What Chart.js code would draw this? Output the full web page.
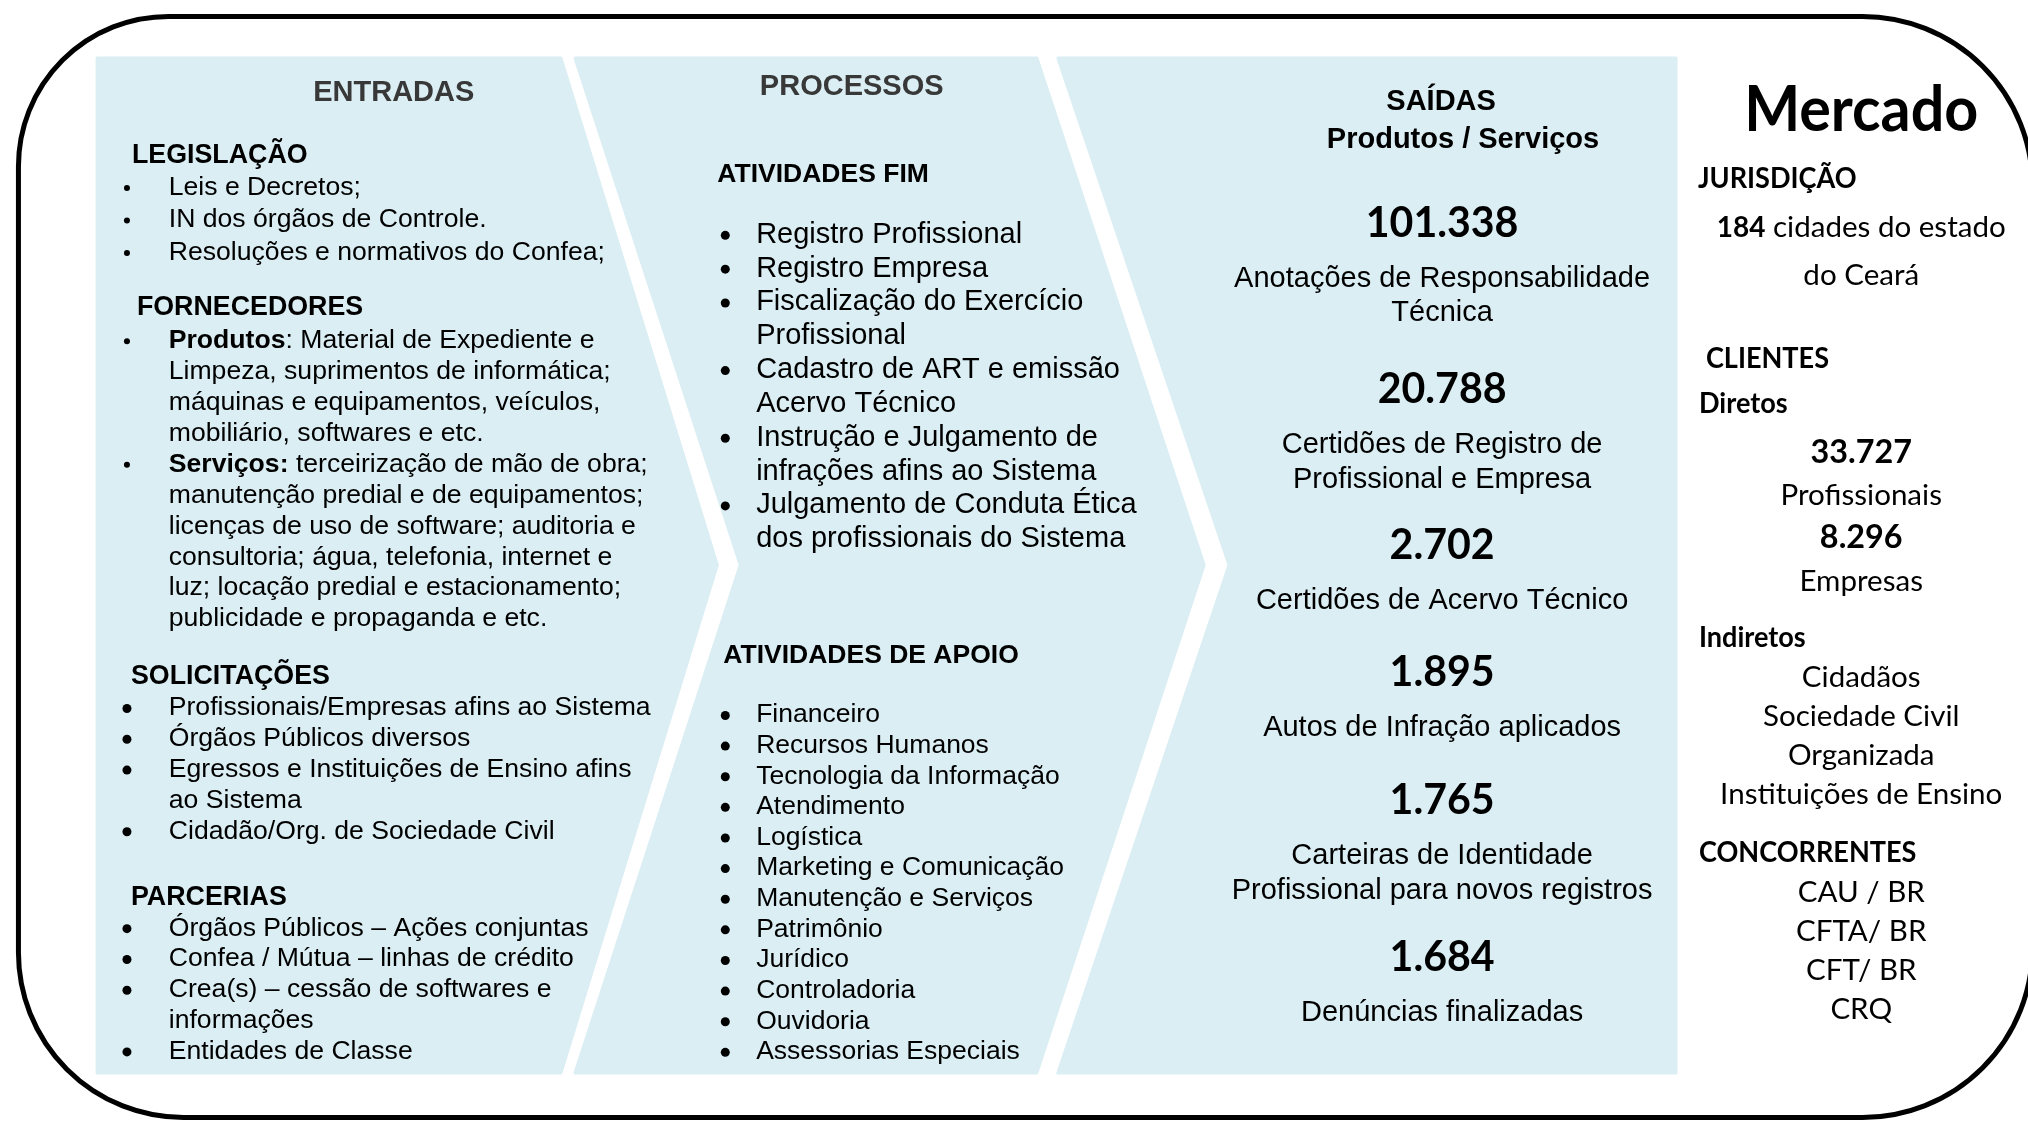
<!DOCTYPE html>
<html lang="pt-BR">
<head>
<meta charset="utf-8">
<title>Cadeia de valor</title>
<script src="https://cdn.jsdelivr.net/npm/chart.js@4.4.1/dist/chart.umd.min.js"></script>
<style>
html, body { margin: 0; padding: 0; background: #fff; }
#quadro { width: 2028px; height: 1124px; position: relative; }
</style>
</head>
<body>
<div id="quadro"><canvas id="grafico"></canvas></div>
<script>
// ---- dados ----
const tituloEntradas = 'ENTRADAS';
const tituloProcessos = 'PROCESSOS';
const tituloSaidas = ['SAÍDAS', 'Produtos / Serviços'];
const tituloMercado = 'Mercado';

const legislacao = [['Leis e Decretos;'], ['IN dos órgãos de Controle.'], ['Resoluções e normativos do Confea;']];
const fornecedoresNegrito = ['Produtos', 'Serviços:'];
const fornecedoresLinhas = [
  [': Material de Expediente e', 'Limpeza, suprimentos de informática;', 'máquinas e equipamentos, veículos,', 'mobiliário, softwares e etc.'],
  [' terceirização de mão de obra;', 'manutenção predial e de equipamentos;', 'licenças de uso de software; auditoria e',
   'consultoria; água, telefonia, internet e', 'luz; locação predial e estacionamento;', 'publicidade e propaganda e etc.']
];
const solicitacoes = [['Profissionais/Empresas afins ao Sistema'], ['Órgãos Públicos diversos'],
  ['Egressos e Instituições de Ensino afins', 'ao Sistema'], ['Cidadão/Org. de Sociedade Civil']];
const parcerias = [['Órgãos Públicos – Ações conjuntas'], ['Confea / Mútua – linhas de crédito'],
  ['Crea(s) – cessão de softwares e', 'informações'], ['Entidades de Classe']];

const atividadesFim = [['Registro Profissional'], ['Registro Empresa'], ['Fiscalização do Exercício', 'Profissional'],
  ['Cadastro de ART e emissão', 'Acervo Técnico'], ['Instrução e Julgamento de', 'infrações afins ao Sistema'],
  ['Julgamento de Conduta Ética', 'dos profissionais do Sistema']];
const atividadesApoio = [['Financeiro'], ['Recursos Humanos'], ['Tecnologia da Informação'], ['Atendimento'], ['Logística'],
  ['Marketing e Comunicação'], ['Manutenção e Serviços'], ['Patrimônio'], ['Jurídico'], ['Controladoria'], ['Ouvidoria'],
  ['Assessorias Especiais']];

const saidasValores = ['101.338', '20.788', '2.702', '1.895', '1.765', '1.684'];
const saidasRotulos = [['Anotações de Responsabilidade', 'Técnica'], ['Certidões de Registro de', 'Profissional e Empresa'],
  ['Certidões de Acervo Técnico'], ['Autos de Infração aplicados'],
  ['Carteiras de Identidade', 'Profissional para novos registros'], ['Denúncias finalizadas']];

const jurisdicaoCidades = '184';
const jurisdicaoTexto = [' cidades do estado', 'do Ceará'];
const diretosValores = ['33.727', '8.296'];
const diretosRotulos = ['Profissionais', 'Empresas'];
const indiretos = ['Cidadãos', 'Sociedade Civil', 'Organizada', 'Instituições de Ensino'];
const concorrentes = ['CAU / BR', 'CFTA/ BR', 'CFT/ BR', 'CRQ'];

// ---- aparencia ----
const LARGURA = 2028, ALTURA = 1124;
const AZUL = '#daeef3';
const PRETO = '#000000';
const CINZA = '#383838';
const ARIAL = '"Liberation Sans", Arial, sans-serif';
const CALIBRI = 'Lato, "Open Sans", sans-serif';

const textos = [];
const marcadores = [];

// pequena correcao vertical do layout
function ajusteY(y) { return y - 4.5 + (y - 90) * 0.0089; }

function texto(partes, x, y, alinha, tam, fam, cor) {
  textos.push({partes: partes, x: x, y: ajusteY(y), alinha: alinha, tam: tam, fam: fam, cor: cor || PRETO});
}

function lista(itens, xMarca, xTexto, y0, passo, tam, raio) {
  let y = y0;
  itens.forEach(function (item) {
    marcadores.push({x: xMarca, y: ajusteY(y) + 0.1 * tam, r: raio});
    item.forEach(function (linha) {
      texto(typeof linha === 'string' ? [[linha, false]] : linha, xTexto, y, 'left', tam, ARIAL);
      y += passo;
    });
  });
}

// entradas
texto([[tituloEntradas, true]], 391, 91, 'center', 29, ARIAL, CINZA);
texto([['LEGISLAÇÃO', true]], 128, 154, 'left', 26.8, ARIAL);
lista(legislacao, 123, 165, 186, 32.5, 26.6, 3);
texto([['FORNECEDORES', true]], 133, 306, 'left', 26.8, ARIAL);
lista(fornecedoresLinhas.map(function (linhas, i) {
  return linhas.map(function (l, j) { return j === 0 ? [[fornecedoresNegrito[i], true], [l, false]] : l; });
}), 123, 165, 339, 30.9, 26.6, 3);
texto([['SOLICITAÇÕES', true]], 127, 675, 'left', 26.8, ARIAL);
lista(solicitacoes, 123, 165, 706, 30.8, 26.6, 4.5);
texto([['PARCERIAS', true]], 127, 895, 'left', 26.8, ARIAL);
lista(parcerias, 123, 165, 926, 30.8, 26.6, 4.5);

// processos
texto([[tituloProcessos, true]], 851, 85, 'center', 29, ARIAL, CINZA);
texto([['ATIVIDADES FIM', true]], 716, 173, 'left', 26.5, ARIAL);
lista(atividadesFim, 724, 755, 233, 33.8, 29, 4.5);
texto([['ATIVIDADES DE APOIO', true]], 722, 654, 'left', 26.5, ARIAL);
lista(atividadesApoio, 724, 755, 713, 30.6, 26.5, 4.5);

// saidas
texto([[tituloSaidas[0], true]], 1443, 100, 'center', 29, ARIAL);
texto([[tituloSaidas[1], true]], 1465, 138, 'center', 29, ARIAL);
const saidasY = [222, 388, 544, 671, 799, 956];
saidasValores.forEach(function (v, i) {
  texto([[v, true]], 1444, saidasY[i], 'center', 47, CALIBRI);
  saidasRotulos[i].forEach(function (r, j) {
    texto([[r, false]], 1444, saidasY[i] + 55 + j * 34.5, 'center', 29, ARIAL);
  });
});

// mercado
texto([[tituloMercado, true]], 1865, 109, 'center', 70, CALIBRI);
texto([['JURISDIÇÃO', true]], 1701, 178, 'left', 32, CALIBRI);
texto([[jurisdicaoCidades, true], [jurisdicaoTexto[0], false]], 1865, 227, 'center', 32, CALIBRI);
texto([[jurisdicaoTexto[1], false]], 1865, 275, 'center', 32, CALIBRI);
texto([['CLIENTES', true]], 1709, 358, 'left', 32, CALIBRI);
texto([['Diretos', true]], 1702, 403, 'left', 32, CALIBRI);
diretosValores.forEach(function (v, i) {
  texto([[v, true]], 1865, 451 + i * 85.5, 'center', 37, CALIBRI);
  texto([[diretosRotulos[i], false]], 1865, 495 + i * 85.5, 'center', 32, CALIBRI);
});
texto([['Indiretos', true]], 1702, 637, 'left', 32, CALIBRI);
indiretos.forEach(function (t, i) { texto([[t, false]], 1865, 677 + i * 39, 'center', 32, CALIBRI); });
texto([['CONCORRENTES', true]], 1702, 852, 'left', 32, CALIBRI);
concorrentes.forEach(function (t, i) { texto([[t, false]], 1865, 892 + i * 39, 'center', 32, CALIBRI); });

// formas dos paineis (chevrons) e moldura
const paineis = [
  [[93, 54], [559, 54], [716, 565], [559, 1077], [93, 1077]],
  [[573, 54], [1037, 54], [1205, 565], [1037, 1077], [573, 1077], [739, 565]],
  [[1058, 54], [1679, 54], [1679, 1077], [1058, 1077], [1230, 565]]
];

let escalaCalibri = {};

function medeCalibri(ctx) {
  // ajusta Lato (desenhado a 0.9x) para as larguras do Calibri
  ctx.font = '400 90px ' + CALIBRI;
  escalaCalibri.normal = 882 / ctx.measureText('Instituições de Ensino').width;
  ctx.font = '700 90px ' + CALIBRI;
  escalaCalibri.negrito = 679.8 / ctx.measureText('CONCORRENTES').width;
  escalaCalibri.numero = 507 / ctx.measureText('0123456789').width;
}

function escalaDe(calibri, parte) {
  if (!calibri) return 1;
  if (parte[1] && /^[\d.]+$/.test(parte[0])) return escalaCalibri.numero;
  return parte[1] ? escalaCalibri.negrito : escalaCalibri.normal;
}

const diagrama = {
  id: 'diagrama',
  beforeDatasetsDraw: function (chart) {
    const ctx = chart.ctx, sx = chart.scales.x, sy = chart.scales.y;
    const X = function (v) { return sx.getPixelForValue(v); };
    const Y = function (v) { return sy.getPixelForValue(v); };
    ctx.save();
    paineis.forEach(function (p) {
      ctx.beginPath();
      p.forEach(function (pt, i) { if (i === 0) ctx.moveTo(X(pt[0]), Y(pt[1])); else ctx.lineTo(X(pt[0]), Y(pt[1])); });
      ctx.closePath();
      ctx.fillStyle = AZUL;
      ctx.fill();
      ctx.strokeStyle = AZUL;
      ctx.lineWidth = 3;
      ctx.lineJoin = 'round';
      ctx.stroke();
    });
    // moldura arredondada
    const x0 = X(14), x1 = X(2037), y0 = Y(12), y1 = Y(1122);
    const rTE = 150, rTD = 170, rBD = 170, rBE = 165;
    ctx.beginPath();
    ctx.moveTo(x0 + rTE, y0);
    ctx.lineTo(x1 - rTD, y0);
    ctx.arcTo(x1, y0, x1, y0 + rTD, rTD);
    ctx.lineTo(x1, y1 - rBD);
    ctx.arcTo(x1, y1, x1 - rBD, y1, rBD);
    ctx.lineTo(x0 + rBE, y1);
    ctx.arcTo(x0, y1, x0, y1 - rBE, rBE);
    ctx.lineTo(x0, y0 + rTE);
    ctx.arcTo(x0, y0, x0 + rTE, y0, rTE);
    ctx.closePath();
    ctx.strokeStyle = '#000';
    ctx.lineWidth = 5;
    ctx.stroke();
    ctx.restore();
  },
  afterDatasetsDraw: function (chart) {
    const ctx = chart.ctx, sx = chart.scales.x, sy = chart.scales.y;
    ctx.save();
    medeCalibri(ctx);
    textos.forEach(function (t) {
      const calibri = t.fam === CALIBRI;
      const tam = calibri ? t.tam * 0.9 : t.tam;
      const cap = calibri ? 0.72 * tam : 0.716 * tam;
      const larguras = t.partes.map(function (p) {
        ctx.font = (p[1] ? '700 ' : '400 ') + tam + 'px ' + t.fam;
        return ctx.measureText(p[0]).width * escalaDe(calibri, p);
      });
      const total = larguras.reduce(function (a, b) { return a + b; }, 0);
      let x = sx.getPixelForValue(t.x);
      if (t.alinha === 'center') x -= total / 2;
      const base = sy.getPixelForValue(t.y) + cap / 2;
      t.partes.forEach(function (p, i) {
        ctx.font = (p[1] ? '700 ' : '400 ') + tam + 'px ' + t.fam;
        ctx.save();
        ctx.translate(x, base);
        ctx.scale(escalaDe(calibri, p), 1);
        ctx.fillStyle = t.cor;
        ctx.textAlign = 'left';
        ctx.textBaseline = 'alphabetic';
        ctx.fillText(p[0], 0, 0);
        ctx.restore();
        x += larguras[i];
      });
    });
    ctx.restore();
  }
};

new Chart(document.getElementById('grafico'), {
  type: 'scatter',
  data: {
    datasets: [{
      label: 'marcadores',
      data: marcadores.map(function (m) { return {x: m.x, y: m.y}; }),
      pointRadius: marcadores.map(function (m) { return m.r; }),
      pointHoverRadius: marcadores.map(function (m) { return m.r; }),
      backgroundColor: PRETO,
      borderWidth: 0
    }]
  },
  options: {
    responsive: true,
    maintainAspectRatio: false,
    animation: false,
    events: [],
    layout: {padding: 0},
    scales: {
      x: {type: 'linear', min: 0, max: LARGURA, display: false},
      y: {type: 'linear', min: 0, max: ALTURA, reverse: true, display: false}
    },
    plugins: {legend: {display: false}, tooltip: {enabled: false}}
  },
  plugins: [diagrama]
});
</script>
</body>
</html>
